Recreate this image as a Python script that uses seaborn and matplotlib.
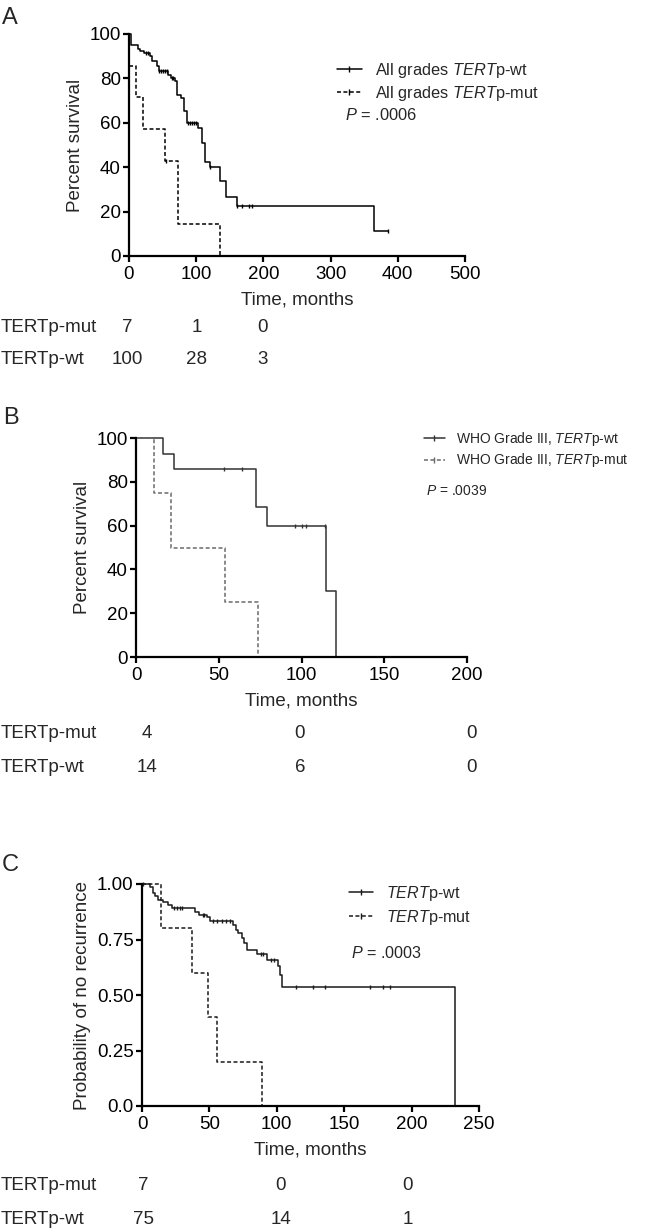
import numpy as np
import pandas as pd
import matplotlib
matplotlib.use('Agg')
import matplotlib.pyplot as plt
import matplotlib.transforms as mtransforms
from matplotlib.lines import Line2D
import seaborn as sns

#-----------------------------------------------------------------------
# data
#-----------------------------------------------------------------------
# A : all grades, overall survival (%)
a_wt_t = [0, 3, 13, 16, 23, 31, 34, 41, 44, 58, 63, 68, 72, 78, 82, 86, 103, 108, 113, 120, 136, 145, 160, 365, 386]
a_wt_s = [100, 95.2, 93.4, 92.2, 91.4, 90, 87.7, 85.4, 83.5, 81.7, 80.2, 78.7, 72.7, 71.2, 65.2, 59.9, 57.7, 50.8, 42.5, 40, 33.9, 26.7, 22.5, 11.3, 11.3]
a_wt_cens = [25, 28, 45, 48, 51, 54, 56, 64, 66, 88, 91, 94, 97, 100, 121, 161, 168, 178, 183, 386]
a_mut_t = [0, 0.5, 11, 21, 54, 73, 135]
a_mut_s = [100, 85.7, 71.4, 57.1, 42.9, 14.3, 0]
a_mut_cens = [55]

# B : WHO grade III
b_wt_t = [0, 16.5, 23, 72.6, 79, 115, 121]
b_wt_s = [100, 92.9, 85.7, 68.6, 60, 30, 0]
b_wt_cens = [53, 64, 96, 100, 102.6, 114]
b_mut_t = [0, 10.9, 21.4, 54, 73.8]
b_mut_s = [100, 75, 50, 25, 0]
b_mut_cens = []

# C : recurrence
c_wt_t = [0, 6, 8, 9.6, 12, 15.8, 19.5, 22, 39, 42, 48, 50.4, 67.7, 69.7, 71.4, 74, 75.7, 77.7, 85, 92.5, 101, 102.4, 103.6, 232]
c_wt_s = [1.0, 0.985, 0.959, 0.945, 0.929, 0.919, 0.907, 0.892, 0.872, 0.862, 0.850, 0.832, 0.817, 0.794, 0.779, 0.757, 0.734, 0.704, 0.685, 0.659, 0.629, 0.591, 0.535, 0.0]
c_wt_cens = [1, 24, 26, 28, 30, 45, 46, 53, 56, 59, 62, 65, 88, 90, 96, 98, 114, 127, 136, 169, 179, 184]
c_mut_t = [0, 13.9, 37.4, 49, 55.4, 88.9]
c_mut_s = [1.0, 0.8, 0.6, 0.4, 0.2, 0.0]
c_mut_cens = []

# numbers at risk
a_risk_mut = ['7', '1', '0']
a_risk_wt = ['100', '28', '3']
b_risk_mut = ['4', '0', '0']
b_risk_wt = ['14', '6', '0']
c_risk_mut = ['7', '0', '0']
c_risk_wt = ['75', '14', '1']

a_labels = ['All grades $\\it{TERT}$p-wt', 'All grades $\\it{TERT}$p-mut']
b_labels = ['WHO Grade III, $\\it{TERT}$p-wt', 'WHO Grade III, $\\it{TERT}$p-mut']
c_labels = ['$\\it{TERT}$p-wt', '$\\it{TERT}$p-mut']
a_p = '$\\it{P}$ = .0006'
b_p = '$\\it{P}$ = .0039'
c_p = '$\\it{P}$ = .0003'

#-----------------------------------------------------------------------
# style
#-----------------------------------------------------------------------
sns.set_style('ticks')
plt.rcParams['font.family'] = ['Liberation Sans', 'DejaVu Sans']
plt.rcParams['mathtext.fontset'] = 'custom'
plt.rcParams['mathtext.rm'] = 'Liberation Sans'
plt.rcParams['mathtext.it'] = 'Liberation Sans:italic'
plt.rcParams['axes.linewidth'] = 1.6
plt.rcParams['xtick.major.width'] = 1.6
plt.rcParams['ytick.major.width'] = 1.6
plt.rcParams['xtick.major.size'] = 4
plt.rcParams['ytick.major.size'] = 4
plt.rcParams['xtick.color'] = 'black'
plt.rcParams['ytick.color'] = 'black'
plt.rcParams['axes.edgecolor'] = 'black'

W, H = 668, 1231
fig = plt.figure(figsize=(W / 100, H / 100), dpi=100)


def px_box(l, r, t, b):
    return [l / W, 1 - b / H, (r - l) / W, (b - t) / H]


def km(ax, t, s, cens, color, ls):
    df = pd.DataFrame({'t': t, 's': s})
    sns.lineplot(data=df, x='t', y='s', ax=ax, color=color, linewidth=1.1,
                 linestyle=ls, drawstyle='steps-post', estimator=None,
                 sort=False, clip_on=False)
    if len(cens):
        idx = np.searchsorted(t, cens, side='right') - 1
        ax.plot(cens, np.array(s)[idx], linestyle='none', marker='|',
                color=color, markersize=3.5, markeredgewidth=1, clip_on=False)


def panel(box, letter, letter_xy, curves, xlim, xticks, ylim, yticks, ytl,
          ylabel, leg_labels, leg_xy, leg_size, leg_space, p_text, p_xy,
          risk_cols, risk_mut, risk_wt, risk_y):
    ax = fig.add_axes(px_box(*box))
    for c in curves:
        km(ax, *c)
    ax.set_xlim(*xlim)
    ax.set_ylim(*ylim)
    ax.set_xticks(xticks)
    ax.set_yticks(yticks)
    ax.set_yticklabels(ytl)
    ax.tick_params(labelsize=13.5)
    ax.tick_params(axis='x', pad=3.5)
    ax.tick_params(axis='y', pad=2)
    sns.despine(ax=ax)
    ax.set_xlabel('Time, months', fontsize=13.5, labelpad=6)
    ax.set_ylabel(ylabel, fontsize=13.5, labelpad=4)

    handles = [Line2D([], [], color=curves[0][3], ls=curves[0][4], lw=1.1, marker='|', ms=4, mew=1),
               Line2D([], [], color=curves[1][3], ls=curves[1][4], lw=1.1, marker='|', ms=4, mew=1)]
    ax.legend(handles, leg_labels, loc='upper left',
              bbox_to_anchor=(leg_xy[0] / W, 1 - leg_xy[1] / H),
              bbox_transform=fig.transFigure, frameon=False,
              fontsize=leg_size, handlelength=1.5, handletextpad=0.8,
              borderpad=0, borderaxespad=0, labelspacing=leg_space,
              numpoints=1)
    fig.text(p_xy[0] / W, 1 - p_xy[1] / H, p_text, fontsize=leg_size,
             va='center', ha='left')
    fig.text(letter_xy[0] / W, 1 - letter_xy[1] / H, letter, fontsize=17,
             va='center', ha='left')

    tr = mtransforms.blended_transform_factory(ax.transData, fig.transFigure)
    for row, vals, y in [('TERTp-mut', risk_mut, risk_y[0]), ('TERTp-wt', risk_wt, risk_y[1])]:
        fig.text(1 / W, 1 - y / H, row, fontsize=13.5, va='center', ha='left')
        for x, v in zip(risk_cols, vals):
            ax.text(x, 1 - y / H, v, transform=tr, fontsize=13.5,
                    va='center', ha='center', clip_on=False)
    return ax


solid = '-'
dash = (0, (2.6, 1.6))

panel((129, 465, 34, 256), 'A', (2, 18),
      [(a_wt_t, a_wt_s, a_wt_cens, 'black', solid),
       (a_mut_t, a_mut_s, a_mut_cens, 'black', dash)],
      (0, 500), range(0, 501, 100), (0, 100), range(0, 101, 20),
      [str(v) for v in range(0, 101, 20)], 'Percent survival',
      a_labels, (337, 61), 11.8, 0.25, a_p, (345, 115),
      [-3, 101, 198], a_risk_mut, a_risk_wt, (327, 360))

panel((136, 467, 438, 657), 'B', (3, 418),
      [(b_wt_t, b_wt_s, b_wt_cens, '#333333', solid),
       (b_mut_t, b_mut_s, b_mut_cens, '#6a6a6a', dash)],
      (0, 200), range(0, 201, 50), (0, 100), range(0, 101, 20),
      [str(v) for v in range(0, 101, 20)], 'Percent survival',
      b_labels, (424, 430), 10, 0.25, b_p, (426, 491),
      [6.6, 99, 203], b_risk_mut, b_risk_wt, (733, 768))

panel((142, 479, 884, 1106), 'C', (2, 865),
      [(c_wt_t, c_wt_s, c_wt_cens, '#1a1a1a', solid),
       (c_mut_t, c_mut_s, c_mut_cens, '#1a1a1a', dash)],
      (0, 250), range(0, 251, 50), (0, 1.0), [0, 0.25, 0.5, 0.75, 1.0],
      ['0.0', '0.25', '0.50', '0.75', '1.00'], 'Probability of no recurrence',
      c_labels, (349, 884), 11.6, 0.3, c_p, (351, 953),
      [1, 103, 197], c_risk_mut, c_risk_wt, (1185, 1220))

plt.savefig('out.png', dpi=100)
